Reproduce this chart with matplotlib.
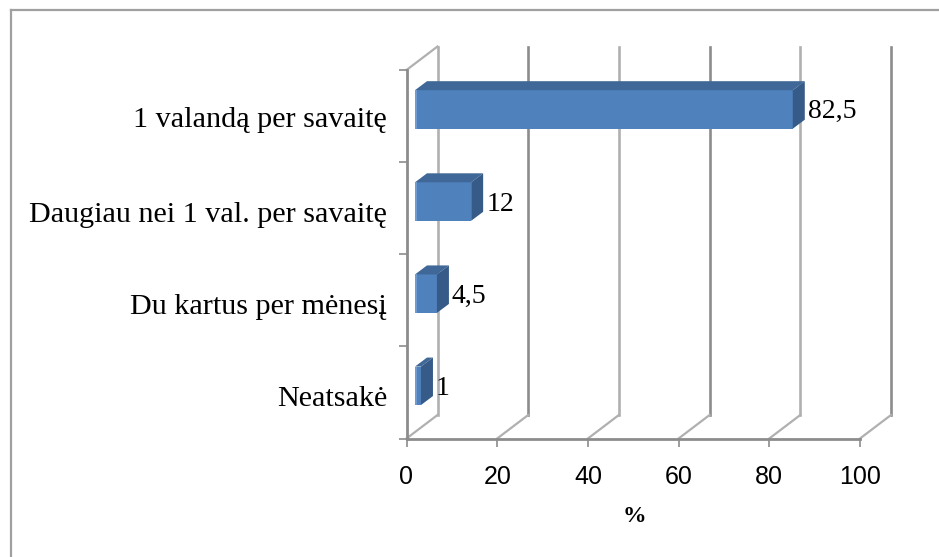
import matplotlib
matplotlib.use('Agg')
import matplotlib.pyplot as plt
from matplotlib.lines import Line2D

# Datos
categorias = ['Neatsakė', 'Du kartus per mėnesį', 'Daugiau nei 1 val. per savaitę', '1 valandą per savaitę']
valores = [1, 4.5, 12, 82.5]
etiquetas = ['1', '4,5', '12', '82,5']
marcas_x = [0, 20, 40, 60, 80, 100]

# Tamano de la figura y plano frontal en pixeles
W, H = 939, 557
X0, X100 = 406.5, 860
Y_ABAJO, Y_ARRIBA = 438.5, 70
GRIS = '#8c8c8c'
GRIS_CLARO = '#b0b0b0'
AZUL = '#4f81bd'
AZUL_TECHO = '#3f6797'
AZUL_LADO = '#365b88'

fig = plt.figure(figsize=(W / 100, H / 100), dpi=100)
ax = fig.add_axes([X0 / W, 1 - Y_ABAJO / H, (X100 - X0) / W, (Y_ABAJO - Y_ARRIBA) / H])
ax.set_xlim(0, 100)
ax.set_ylim(0, 4)

# Conversion de pixeles a unidades de los ejes
ux = (X100 - X0) / 100
uy = (Y_ABAJO - Y_ARRIBA) / 4
fondo_x = 31 / ux  # profundidad de la pared
fondo_y = 23.5 / uy
barra_x = 12 / ux  # profundidad de la barra
barra_y = 9 / uy
inicio = 8.5 / ux
extra = 1.4 / ux  # la barra empieza algo antes de su origen real
alto = 38.5 / uy
sube = 0.072  # la barra va un poco mas arriba del centro
escala = 1.006

# Paredes: lineas verticales de fondo y diagonales del suelo
for i, m in enumerate(marcas_x):
    c = GRIS_CLARO if i % 2 == 0 else GRIS
    ax.plot([m + fondo_x, m + fondo_x], [fondo_y, 4 + fondo_y], color=c, lw=1.9, clip_on=False, zorder=1)
    ax.plot([m, m + fondo_x], [0, fondo_y], color=GRIS_CLARO, lw=1.6, clip_on=False, zorder=1)
ax.plot([0, fondo_x], [4, 4 + fondo_y], color=GRIS_CLARO, lw=1.6, clip_on=False, zorder=1)

# Barras 3D: cara frontal, techo y lado
for i, v in enumerate(valores):
    y0 = i + 0.5 + sube - alto / 2
    y1 = y0 + alto
    x1 = inicio + extra + v * escala
    ax.barh(y0, x1 - inicio, height=alto, left=inicio, align='edge', color=AZUL, zorder=3)
    ax.barh(y0, 2.2 / ux, height=alto, left=inicio, align='edge', color='#6f9bd1', zorder=4)
    ax.fill([inicio, x1, x1 + barra_x, inicio + barra_x], [y1, y1, y1 + barra_y, y1 + barra_y],
            color=AZUL_TECHO, lw=0, zorder=3)
    ax.fill([x1, x1 + barra_x, x1 + barra_x, x1], [y0, y0 + barra_y, y1 + barra_y, y1],
            color=AZUL_LADO, lw=0, zorder=3)
    ax.text(x1 + 15 / ux, i + 0.5 + sube - 2 / uy - 0.005, etiquetas[i], family='Liberation Serif', fontsize=20,
            ha='left', va='center', color='black', zorder=5)

# Ejes
for s in ['top', 'right']:
    ax.spines[s].set_visible(False)
for s in ['left', 'bottom']:
    ax.spines[s].set_color(GRIS)
    ax.spines[s].set_linewidth(2)

ax.set_xticks(marcas_x)
ax.set_xticklabels([str(m) for m in marcas_x], family='Liberation Sans', fontsize=18)
ax.tick_params(axis='x', length=6, width=1.2, color=GRIS, pad=13)
ax.set_yticks([0, 1, 2, 3, 4])
ax.set_yticklabels([])
ax.tick_params(axis='y', which='major', length=6, width=1.2, color=GRIS)
# Las etiquetas quedan algo por debajo del centro de cada categoria
ax.set_yticks([0.46, 1.46, 2.46, 3.49], minor=True)
ax.set_yticklabels(categorias, minor=True, family='Liberation Serif', fontsize=21.7)
ax.tick_params(axis='y', which='minor', length=0, pad=14)

fig.text(634 / W, 1 - 516 / H, '%', family='Liberation Serif', fontsize=17, fontweight='bold',
         ha='center', va='center')

# Marco exterior, solo izquierda y arriba
fig.add_artist(Line2D([10.5 / W, 10.5 / W], [0, 1 - 9.5 / H], color='#a0a0a0', lw=1.6))
fig.add_artist(Line2D([10.5 / W, 1], [1 - 9.5 / H, 1 - 9.5 / H], color='#a0a0a0', lw=1.6))

fig.savefig('out.png', dpi=100)
